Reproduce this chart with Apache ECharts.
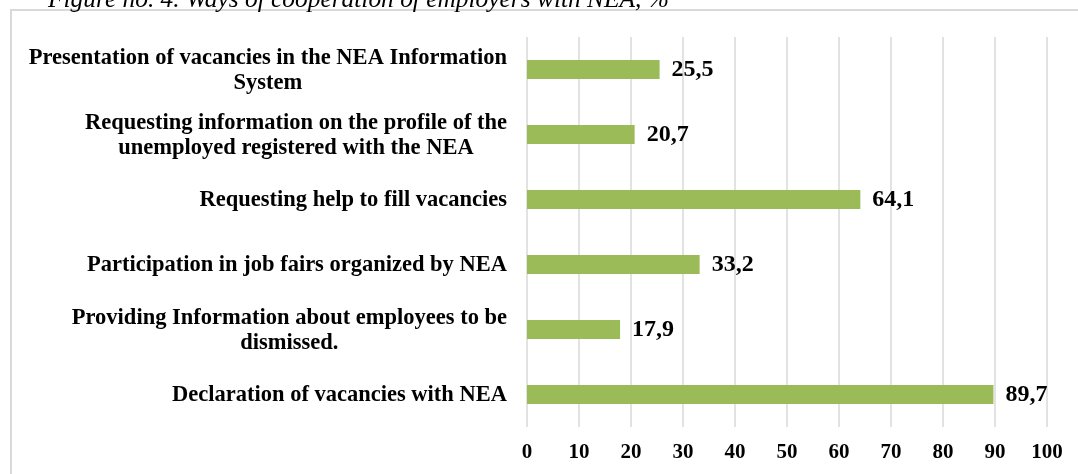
<!DOCTYPE html>
<html>
<head>
<meta charset="utf-8">
<script src="https://cdn.jsdelivr.net/npm/echarts@6/dist/echarts.min.js"></script>
<style>
html,body{margin:0;padding:0;background:#fff;}
#chart{width:1078px;height:474px;}
</style>
</head>
<body>
<div id="chart"></div>
<script>
const titleText = 'Figure no. 4. Ways of cooperation of employers with NEA, %';
const categories = [
  'Declaration of vacancies with NEA',
  'Providing Information about employees to be\ndismissed.',
  'Participation in job fairs organized by NEA',
  'Requesting help to fill vacancies',
  'Requesting information on the profile of the\nunemployed registered with the NEA',
  'Presentation of vacancies in the NEA Information\nSystem'
];
const values = [89.7, 17.9, 33.2, 64.1, 20.7, 25.5];
const xTicks = [0, 10, 20, 30, 40, 50, 60, 70, 80, 90, 100];

const chart = echarts.init(document.getElementById('chart'));
const font = '"Liberation Serif", "Times New Roman", serif';
chart.setOption({
  animation: false,
  backgroundColor: '#fff',
  title: {
    text: titleText,
    left: 43,
    top: -17,
    textStyle: { fontFamily: font, fontStyle: 'italic', fontWeight: 'normal', fontSize: 25.4, color: '#000' }
  },
  graphic: [{
    type: 'rect',
    shape: { x: 11, y: 10, width: 1100, height: 500 },
    style: { fill: 'none', stroke: '#d9d9d9', lineWidth: 2 },
    silent: true,
    z: -1
  }],
  grid: { left: 527, right: 31, top: 37, bottom: 47, containLabel: false },
  xAxis: {
    type: 'value',
    min: 0, max: 100, interval: 10,
    axisLine: { show: false },
    axisTick: { show: false },
    splitLine: { show: true, lineStyle: { color: '#d9d9d9', width: 1.5 } },
    axisLabel: {
      margin: 15,
      fontFamily: font, fontWeight: 'bold', fontSize: 21, color: '#000',
      formatter: v => xTicks.includes(v) ? String(v) : ''
    }
  },
  yAxis: {
    type: 'category',
    data: categories,
    axisLine: { show: false },
    axisTick: { show: false },
    axisLabel: {
      margin: 20,
      align: 'right',
      formatter: v => v.split('\n').map(s => '{c|' + s + '}').join('\n'),
      rich: {
        c: { fontFamily: font, fontWeight: 'bold', fontSize: 22.5, color: '#000', align: 'center', lineHeight: 25.5, padding: [2, 0, 0, 0] }
      }
    }
  },
  series: [{
    type: 'bar',
    data: values,
    barWidth: 19,
    itemStyle: { color: '#9bbb59' },
    label: {
      show: true,
      position: 'right',
      distance: 12,
      fontFamily: font, fontWeight: 'bold', fontSize: 24, color: '#000',
      formatter: p => String(p.value).replace('.', ',')
    }
  }]
});
</script>
</body>
</html>
